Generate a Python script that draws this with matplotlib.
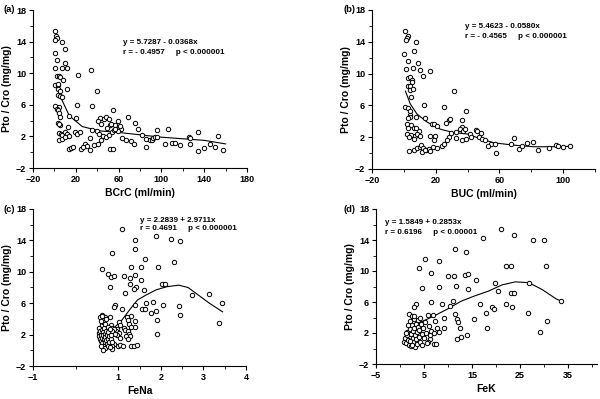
import matplotlib
matplotlib.use("Agg")
import matplotlib.pyplot as plt

plt.rcParams['font.family'] = ['Liberation Sans', 'DejaVu Sans']
plt.rcParams['font.weight'] = 'bold'

# ---------------- data ----------------
a_pts = [(1,15.4),(1.5,14.7),(2,14.4),(1,14.2),(7,14.0),(0.5,12.6),(10,13.0),(2,11.7),(10,11.3),(0.5,10.7),
         (7.4,10.7),(11.5,10.7),(34,10.4),(2,9.7),(4,9.7),(5,9.5),(22,9.8),(8.3,9.1),(1,8.5),(3,8.5),(3.5,8.6),
         (3.8,8.0),(5,7.7),(12,8.0),(39.6,7.8),(3,7.3),(5,7.1),(7.4,7.0),(1,5.8),(4,5.7),(21,6.0),(35,5.9),
         (2,5.5),(3,5.3),(4,4.9),(5,4.5),(55,5.3),(14,4.6),(20,4.3),(43,4.3),(46,4.2),(48,4.4),(51,4.2),
         (69,4.4),(3,3.7),(5.4,3.4),(4,3.6),(57,3.5),(60,3.2),(62,3.0),(75,3.7),(13,3.2),(52,3.4),(78,3.0),
         (106,2.9),(96,2.8),(35,2.8),(4,2.4),(6,2.3),(7.5,2.2),(10,2.5),(12,2.3),(14,2.1),(19,2.6),(21,2.3),
         (24,2.5),(40,2.7),(42,2.3),(45,2.1),(48,1.9),(51,2.2),(54,2.5),(56,2.8),(59,2.7),(82,2.2),(86,1.7),
         (89,1.6),(91,1.5),(92,1.8),(94,1.9),(96,1.9),(126,1.9),(127,1.8),(134,2.6),(153,2.1),(33,1.8),
         (4,1.5),(7,1.7),(10,1.9),(29,1.1),(30,0.8),(63,1.8),(67,1.6),(72,1.4),(74,1.1),(103,1.0),(110,1.2),
         (113,1.2),(117,0.9),(127,1.0),(145,1.0),(150,0.7),(140,0.5),(158,0.3),(134,0.2),(86,0.7),(14,0.4),
         (15.5,0.5),(17,0.7),(25,0.4),(26.5,0.7),(33,0.3),(52,0.4),(55,0.4),(37,0.9),(41,1.1),(44,1.6),
         (41,3.9),(44,3.6),(49,3.1),(53,3.6),(57,2.9),(59,3.9),(61,3.3)]
a_curve_x = [3, 7.4, 14, 26, 42, 60, 80, 100, 120, 140, 160]
a_curve_y = [8.1, 6.5, 4.6, 3.25, 2.7, 2.5, 2.2, 1.9, 1.7, 1.5, 1.05]

b_pts = [(1,15.4),(2.4,14.75),(2,14.5),(1.6,14.2),(7.8,14.0),(6.6,12.9),(0.3,12.5),(2.4,11.6),(8.7,11.3),
         (1.6,10.6),(5.8,10.7),(10.4,10.5),(16.6,10.3),(11.8,9.7),(2.4,9.4),(4,9.6),(5,9.2),(5,9.0),(2.4,8.5),
         (3.8,8.4),(4,7.9),(5.5,8.0),(31.7,7.8),(4.7,7.1),(0.7,5.8),(2.5,5.7),(3.6,5.3),(4,4.8),(25.4,5.8),
         (12.5,6.0),(39,5.3),(4,4.5),(2.6,4.4),(7.6,4.6),(13.3,4.4),(28.4,4.2),(29.2,4.3),(36.3,4.2),
         (17.7,3.7),(18.7,3.6),(20.8,3.4),(2.2,3.7),(4.3,3.5),(2.8,3.2),(6.4,3.1),(9.6,2.8),(7.6,3.1),
         (26.7,3.75),(36.3,3.3),(35,3.0),(37,2.8),(38.4,3.0),(45,2.9),(46,2.75),(48.3,2.5),(29.3,2.5),
         (33,2.6),(2.2,2.4),(4.3,2.25),(3.4,2.0),(6.8,2.2),(8.4,2.4),(10,2.2),(6.4,1.8),(16.6,2.2),
         (19.8,2.1),(19.2,1.7),(41.8,2.4),(42.2,2.0),(33,1.9),(36.8,1.6),(39.3,1.8),(47,2.0),(49,1.8),
         (50.7,1.7),(69.4,1.9),(67.5,1.2),(55,1.1),(57.5,1.1),(53,0.9),(72,0.5),(77,1.25),(81,1.4),(3,0.3),
         (6.4,0.4),(8,0.6),(9.9,0.75),(11,1.0),(11.8,0.6),(14,0.45),(16,0.5),(16.6,0.3),(11.6,0.1),
         (13.5,0.35),(18,0.75),(21,0.6),(24,0.9),(25,1.1),(28.4,2.0),(27,1.6),(58,0.0),(74,0.9),(84,0.4),
         (91,0.6),(95.5,0.96),(96.5,0.85),(99.8,0.8),(104,0.87)]
b_curve_x = [1, 4, 8.3, 14.6, 23, 31, 40, 48, 56.4, 69, 81.6, 92, 104]
b_curve_y = [7.8, 6.2, 4.9, 3.9, 3.0, 2.6, 2.4, 1.8, 1.3, 1.0, 0.8, 0.8, 0.85]

c_pts = [(1.1,15.4),(1.89,14.6),(2.25,14.2),(1.39,14.0),(2.44,13.9),(1.39,12.9),(0.85,12.4),(1.64,11.6),
         (2.30,11.3),(0.61,10.3),(1.29,10.6),(1.53,10.6),(1.93,10.6),(0.76,9.7),(0.83,9.4),(0.89,9.5),
         (1.13,9.5),(1.40,9.6),(1.27,9.2),(1.28,8.5),(1.54,8.9),(1.41,8.0),(1.37,7.8),(0.81,8.0),(2.02,8.4),
         (2.1,8.5),(1.15,7.3),(1.61,7.7),(2.74,7.1),(3.13,7.2),(0.93,5.8),(0.90,5.5),(1.08,5.3),(1.40,5.8),
         (1.55,5.3),(1.63,5.3),(1.65,6.0),(1.81,6.1),(2.04,5.8),(2.42,5.7),(3.44,6.0),(1.78,4.7),(1.89,5.0),
         (2.44,4.5),(1.91,3.9),(1.40,3.7),(1.40,3.0),(3.37,3.5),(1.92,2.1),(1.30,4.4),(1.2,4.2),(1.23,3.8),
         (1.26,3.4),(1.3,3.0),(1.14,2.9),(1.17,2.6),(1.22,2.4),(1.25,2.1),(1.27,1.8),(1.19,1.8),(1.24,1.5),
         (1.03,3.6),(1.05,3.2),(0.98,2.7),(0.95,2.4),(1.01,2.2),(0.98,1.9),(1.04,1.6),(0.83,3.2),(0.86,2.9),
         (0.89,2.7),(0.81,2.6),(0.86,2.4),(0.92,2.1),(1.0,0.6),(1.05,0.7),(1.12,0.6),(1.31,0.6),(1.38,0.6),
         (1.43,0.65),(0.89,0.75),(0.85,0.55),(0.86,0.2),(0.61,4.5),(0.68,4.3),(0.64,3.9),(0.8,4.3),
         (0.55,2.8),(0.55,2.2),(0.56,1.8),(0.57,1.5),(0.58,2.5),(0.6,2.0),(0.6,1.2),(0.61,3.2),(0.62,2.6),
         (0.62,1.6),(0.63,0.9),(0.64,2.3),(0.65,1.9),(0.65,3.6),(0.66,1.4),(0.66,0.6),(0.67,2.8),(0.68,2.1),
         (0.68,1.1),(0.69,3.3),(0.7,1.7),(0.7,0.3),(0.71,2.5),(0.72,1.3),(0.72,4.0),(0.73,0.8),(0.74,2.0),
         (0.75,1.5),(0.75,3.0),(0.76,0.5),(0.77,2.3),(0.78,1.0),(0.79,1.8),(0.8,2.7),(0.8,0.4),(0.82,1.4),
         (0.84,2.0),(0.85,1.1),(0.57,4.2),(0.6,3.7),(0.65,0.1),(0.63,4.4),(0.59,0.5)]
c_curve_x = [0.64, 0.89, 1.08, 1.26, 1.45, 1.64, 1.89, 2.14, 2.42, 2.64, 2.89, 3.14, 3.45]
c_curve_y = [2.4, 2.8, 3.8, 5.1, 6.4, 7.0, 7.7, 8.1, 8.3, 8.0, 7.0, 6.0, 4.9]

d_pts = [(21.1,15.4),(23.7,14.6),(17.3,14.2),(27.7,14.0),(30.0,14.0),(11.4,12.9),(13.8,12.5),(5.1,11.6),
         (8.2,11.3),(3.9,10.4),(22.0,10.6),(23.2,10.6),(30.4,10.6),(6.4,9.7),(9.9,9.4),(11.2,9.3),(13.6,9.5),
         (14.1,9.6),(15.8,8.8),(8.2,8.0),(11.7,8.1),(19.8,8.5),(26.8,8.4),(4.5,7.8),(14.2,7.7),(20.3,7.4),
         (23.1,7.1),(23.8,7.2),(3.3,5.8),(3.0,5.4),(6.5,6.0),(8.7,5.8),(10.3,5.5),(11.0,6.1),(16.6,5.8),
         (22.0,5.8),(23.4,5.3),(19.2,5.3),(19.6,5.1),(33.6,6.1),(5.8,4.3),(6.8,4.3),(11.5,4.4),(15.4,3.8),
         (26.6,4.6),(17.9,4.6),(11.9,3.75),(12.1,3.4),(30.6,3.5),(9.2,3.9),(7.2,3.6),(18.1,2.7),(12.5,2.7),
         (9.1,2.7),(8.2,2.1),(29.2,2.1),(14.0,1.8),(12.6,1.45),(11.8,1.2),(7.0,0.6),(7.5,0.6),(6.2,1.2),
         (5.8,0.8),(0.8,0.9),(1.0,1.3),(1.2,0.7),(1.4,1.7),(1.5,2.1),(1.6,1.1),(1.8,0.5),(1.9,4.4),(2.0,3.5),
         (2.1,2.5),(2.2,1.9),(2.3,0.3),(2.4,4.2),(2.5,3.0),(2.6,1.4),(2.7,2.2),(2.8,0.8),(2.9,3.8),(3.0,2.6),
         (3.1,1.8),(3.2,0.2),(3.3,3.2),(3.4,1.2),(3.5,2.1),(3.6,0.6),(3.7,3.7),(3.8,2.8),(3.9,1.5),(4.0,2.4),
         (4.2,0.9),(4.3,3.1),(4.5,1.9),(4.6,0.4),(4.8,2.6),(5.0,1.3),(5.2,3.4),(5.4,2.0),(5.6,0.7),(6.0,2.9),
         (6.3,1.7),(1.3,2.0),(2.0,1.0),(2.5,0.5),(1.7,3.0),(3.0,4.2),(4.1,3.9),(6.5,2.3),(7.0,2.0),(7.7,2.6)]
d_curve_x = [2.5, 4.3, 7.1, 9.9, 12.7, 15.6, 18.4, 21.2, 24.0, 26.8, 29.6, 32.5, 33.6]
d_curve_y = [2.85, 3.4, 4.2, 5.1, 6.1, 6.8, 7.4, 8.2, 8.6, 8.5, 7.6, 6.4, 6.1]

panel_labels = ['(a)', '(b)', '(c)', '(d)']
x_labels = ['BCrC (ml/min)', 'BUC (ml/min)', 'FeNa', 'FeK']
y_label = 'Pto / Cro (mg/mg)'
eq1 = ['y = 5.7287 - 0.0368x', 'y = 5.4623 - 0.0580x', 'y = 2.2839 + 2.9711x', 'y = 1.5849 + 0.2853x']
eq2 = ['r = - 0.4957     p < 0.000001', 'r = - 0.4565     p < 0.000001',
       'r = 0.4691     p < 0.000001', 'r = 0.6196     p < 0.00001']

x_major = [[-20, 20, 60, 100, 140, 180], [-20, 20, 60, 100], [-1, 1, 2, 3, 4], [-5, 5, 15, 25, 35]]
x_minor = [[0, 40, 80, 120, 160], [0, 40, 80, 120], [0, 1.5, 2.5, 3.5], [0, 10, 20, 30, 40]]
y_major = [-2, 2, 6, 10, 14, 18]
y_minor = [0, 4, 8, 12, 16]

# ---------------- layout ----------------
W, H = 600, 399
fig = plt.figure(figsize=(6.0, 3.99), dpi=100)

def px_axes(l, r, t, b):
    return fig.add_axes([l / W, 1 - b / H, (r - l) / W, (b - t) / H])

specs = [
    dict(box=(33, 247, 10, 168), xlim=(-20, 180), pts=a_pts, cx=a_curve_x, cy=a_curve_y,
         lab=(3, 9), eq=(123, 43)),
    dict(box=(372, 595, 10, 169), xlim=(-20, 120), pts=b_pts, cx=b_curve_x, cy=b_curve_y,
         lab=(343, 9), eq=(465, 27)),
    dict(box=(33, 246, 209, 366), xlim=(-1, 4), pts=c_pts, cx=c_curve_x, cy=c_curve_y,
         lab=(3, 209), eq=(140, 220)),
    dict(box=(376, 597, 209, 364), xlim=(-5, 41), pts=d_pts, cx=d_curve_x, cy=d_curve_y,
         lab=(343, 209), eq=(385, 223)),
]

for i, s in enumerate(specs):
    l, r, t, b = s['box']
    ax = px_axes(l, r, t, b)
    xs = [p[0] for p in s['pts']]
    ys = [p[1] for p in s['pts']]
    ax.scatter(xs, ys, s=10, facecolors='white', edgecolors='black', linewidths=0.7, zorder=3, clip_on=False)
    ax.plot(s['cx'], s['cy'], color='black', lw=0.8, zorder=2)
    ax.set_xlim(*s['xlim'])
    ax.set_ylim(-2, 18)
    ax.set_xticks(x_major[i])
    ax.set_xticks(x_minor[i], minor=True)
    ax.set_yticks(y_major)
    ax.set_yticks(y_minor, minor=True)
    for sp in ('top', 'right'):
        ax.spines[sp].set_visible(False)
    for sp in ('left', 'bottom'):
        ax.spines[sp].set_linewidth(0.8)
    ax.tick_params(which='major', direction='out', length=3, width=0.8, labelsize=6.5, pad=2)
    ax.tick_params(which='minor', direction='out', length=2, width=0.6)
    for lbl in ax.get_xticklabels() + ax.get_yticklabels():
        lbl.set_fontweight('bold')
    ax.set_xlabel(x_labels[i], fontsize=7.5, fontweight='bold', labelpad=3)
    ax.set_ylabel(y_label, fontsize=7.5, fontweight='bold', labelpad=3)
    lx, ly = s['lab']
    fig.text(lx / W, 1 - ly / H, panel_labels[i], fontsize=6.8, fontweight='bold', va='center', ha='left')
    ex, ey = s['eq']
    fig.text(ex / W, 1 - ey / H, eq1[i], fontsize=5.8, fontweight='bold', va='center', ha='left')
    fig.text(ex / W, 1 - (ey + 9) / H, eq2[i], fontsize=5.8, fontweight='bold', va='center', ha='left')

fig.savefig('out.png', dpi=100)
